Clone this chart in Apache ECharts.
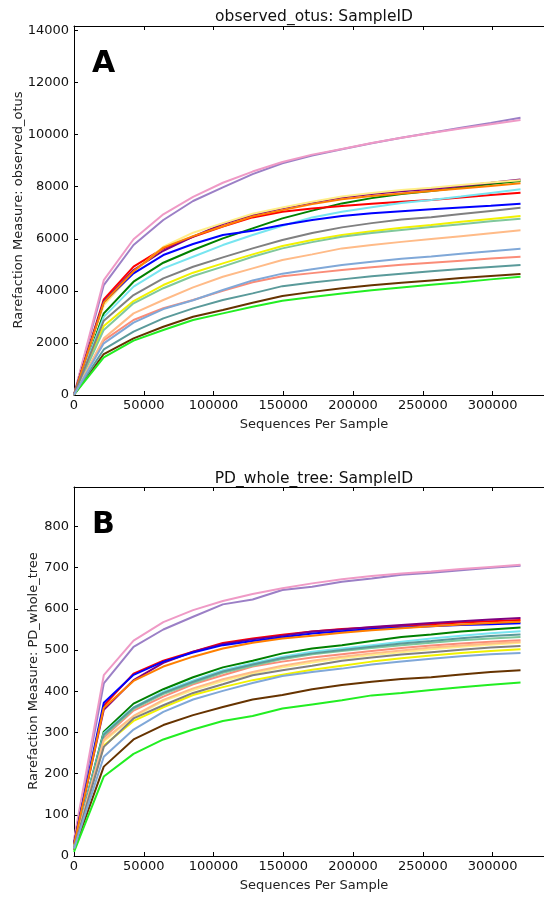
<!DOCTYPE html>
<html><head><meta charset="utf-8">
<script src="https://cdn.jsdelivr.net/npm/echarts@6/dist/echarts.min.js"></script>
<style>html,body{margin:0;padding:0;background:#fff}#c{width:544px;height:897px}</style>
</head><body><div id="c"></div>
<script>
// Sequences per sample (rarefaction depths)
const depths = [10, 21343, 42676, 64008, 85341, 106674, 128007, 149340, 170672, 192005, 213338, 234671, 256004, 277336, 298669, 320002];

const seriesNames = ['purple', 'pink', 'darkpurple', 'paleyellow', 'orange', 'green', 'red', 'cyan', 'blue', 'gray', 'yellow', 'aquamarine', 'teal', 'peach', 'steel', 'salmon', 'brown', 'lime'];
const seriesColors = ['#9b7fc6', '#ef9ac6', '#800080', '#ffee88', '#ff7f00', '#008000', '#ff0000', '#77e5f0', '#0000ff', '#808080', '#f2f200', '#80c89c', '#5a9a9a', '#ffbb88', '#80a8d8', '#fa8c78', '#663300', '#22ee22'];

// Panel A: observed_otus
const otusPurple     = [10, 4220, 5760, 6720, 7450, 7970, 8480, 8900, 9200, 9440, 9670, 9880, 10070, 10260, 10450, 10650];
const otusPink       = [10, 4410, 5980, 6940, 7610, 8150, 8580, 8950, 9230, 9450, 9680, 9880, 10060, 10230, 10400, 10560];
const otusDarkPurple = [10, 3580, 4800, 5540, 6080, 6565, 6910, 7166, 7390, 7588, 7720, 7820, 7910, 8030, 8150, 8280];
const otusPaleYellow = [10, 3450, 4720, 5694, 6232, 6600, 6960, 7200, 7420, 7620, 7760, 7870, 7960, 8060, 8160, 8250];
const otusOrange     = [10, 3550, 4750, 5660, 6100, 6480, 6860, 7100, 7330, 7520, 7640, 7740, 7830, 7930, 8030, 8127];
const otusGreen      = [10, 3135, 4351, 5080, 5567, 6014, 6398, 6782, 7080, 7358, 7560, 7720, 7830, 7970, 8100, 8215];
const otusRed        = [10, 3673, 4927, 5630, 6078, 6470, 6820, 7038, 7160, 7256, 7340, 7420, 7490, 7580, 7680, 7767];
const otusCyan       = [10, 3000, 4160, 4860, 5310, 5758, 6142, 6500, 6820, 7038, 7210, 7370, 7486, 7620, 7760, 7897];
const otusBlue       = [10, 3570, 4671, 5375, 5797, 6142, 6308, 6526, 6720, 6872, 6980, 7060, 7130, 7200, 7270, 7344];
const otusGray       = [10, 2853, 3839, 4479, 4927, 5285, 5630, 5950, 6220, 6437, 6600, 6740, 6830, 6950, 7070, 7191];
const otusYellow     = [10, 2649, 3609, 4223, 4697, 5055, 5400, 5720, 5950, 6142, 6290, 6420, 6530, 6650, 6760, 6872];
const otusAquamarine = [10, 2500, 3520, 4100, 4570, 4930, 5310, 5630, 5870, 6080, 6220, 6340, 6450, 6560, 6670, 6768];
const otusTeal       = [10, 1750, 2431, 2943, 3327, 3647, 3903, 4180, 4320, 4440, 4560, 4660, 4750, 4840, 4920, 4991];
const otusPeach      = [10, 2175, 3135, 3647, 4133, 4543, 4863, 5183, 5400, 5630, 5760, 5880, 5990, 6100, 6210, 6323];
const otusSteel      = [10, 1983, 2777, 3300, 3640, 4031, 4400, 4660, 4830, 4990, 5120, 5230, 5320, 5420, 5520, 5617];
const otusSalmon     = [10, 2100, 2879, 3330, 3650, 4000, 4330, 4560, 4680, 4800, 4910, 5000, 5080, 5160, 5240, 5309];
const otusBrown      = [10, 1574, 2175, 2623, 3007, 3263, 3545, 3800, 3960, 4095, 4210, 4310, 4400, 4490, 4570, 4645];
const otusLime       = [10, 1446, 2086, 2495, 2880, 3135, 3391, 3620, 3760, 3900, 4020, 4130, 4230, 4330, 4440, 4542];

// Panel B: PD_whole_tree
const pdPurple     = [35, 419, 508, 550, 581, 611, 623, 646, 654, 666, 674, 683, 688, 694, 700, 705];
const pdPink       = [40, 439, 523, 568, 597, 619, 636, 650, 662, 672, 680, 686, 691, 697, 702, 707];
const pdDarkPurple = [30, 355, 427, 469, 496, 515, 526, 535, 545, 550, 556, 561, 566, 570, 574, 578];
const pdPaleYellow = [20, 278, 338, 376, 403, 425, 443, 458, 470, 480, 488, 495, 502, 508, 513, 518];
const pdOrange     = [28, 360, 425, 460, 484, 504, 518, 528, 535, 542, 548, 553, 558, 562, 566, 569];
const pdGreen      = [25, 302, 370, 405, 434, 458, 474, 492, 504, 512, 522, 532, 538, 545, 550, 555];
const pdRed        = [30, 365, 443, 474, 496, 517, 528, 537, 545, 551, 555, 559, 563, 567, 570, 573];
const pdCyan       = [25, 298, 361, 399, 426, 451, 468, 484, 496, 504, 512, 520, 528, 535, 541, 546];
const pdBlue       = [30, 372, 440, 472, 494, 512, 522, 531, 540, 546, 551, 555, 558, 561, 563, 565];
const pdGray       = [20, 265, 334, 366, 396, 417, 439, 451, 462, 474, 482, 489, 495, 501, 506, 510];
const pdYellow     = [20, 268, 328, 361, 391, 410, 427, 440, 452, 462, 472, 480, 487, 493, 498, 502];
const pdAquamarine = [22, 292, 357, 393, 420, 445, 462, 478, 490, 498, 505, 512, 518, 524, 528, 532];
const pdTeal       = [22, 295, 360, 396, 423, 448, 465, 481, 492, 500, 508, 516, 522, 529, 534, 538];
const pdPeach      = [20, 282, 340, 379, 407, 429, 447, 462, 474, 484, 492, 499, 506, 511, 516, 520];
const pdSteel      = [18, 241, 307, 350, 380, 401, 420, 437, 447, 455, 465, 472, 479, 485, 490, 493];
const pdSalmon     = [22, 288, 353, 387, 417, 439, 460, 472, 482, 490, 498, 505, 511, 516, 520, 524];
const pdBrown      = [15, 217, 283, 318, 342, 362, 380, 391, 405, 415, 423, 430, 434, 441, 447, 451];
const pdLime       = [10, 193, 248, 283, 307, 328, 340, 358, 368, 378, 390, 396, 403, 410, 416, 421];

const otusData = [otusPurple, otusPink, otusDarkPurple, otusPaleYellow, otusOrange, otusGreen, otusRed, otusCyan, otusBlue, otusGray, otusYellow, otusAquamarine, otusTeal, otusPeach, otusSteel, otusSalmon, otusBrown, otusLime];
const pdData = [pdPurple, pdPink, pdDarkPurple, pdPaleYellow, pdOrange, pdGreen, pdRed, pdCyan, pdBlue, pdGray, pdYellow, pdAquamarine, pdTeal, pdPeach, pdSteel, pdSalmon, pdBrown, pdLime];

const FONT = 'DejaVu Sans';
const xTicks = [0, 50000, 100000, 150000, 200000, 250000, 300000];

function xAx(gi, pos, showLabels, name) {
  return {
    type: 'value', gridIndex: gi, position: pos, min: 0, max: 344000, interval: 50000,
    name: name || '', nameLocation: 'middle', nameGap: 23,
    nameTextStyle: {fontFamily: FONT, fontSize: 13, color: '#222'},
    axisLine: {show: true, onZero: false, lineStyle: {color: '#000', width: 1}},
    axisTick: {show: true, inside: true, length: 4, lineStyle: {color: '#000'}},
    axisLabel: {show: showLabels, showMaxLabel: false, fontFamily: FONT, fontSize: 13, color: '#111', margin: 4,
      formatter: v => (xTicks.indexOf(v) >= 0 ? String(v) : '')},
    splitLine: {show: false}
  };
}
function yAx(gi, max, interval) {
  return {
    type: 'value', gridIndex: gi, min: 0, max: max, interval: interval,
    axisLine: {show: true, onZero: false, lineStyle: {color: '#000', width: 1}},
    axisTick: {show: true, inside: true, length: 4, lineStyle: {color: '#000'}},
    axisLabel: {showMaxLabel: false, fontFamily: FONT, fontSize: 13, color: '#111', margin: 5,
      formatter: v => (v % interval === 0 ? String(v) : '')},
    splitLine: {show: false}
  };
}

const series = [];
otusData.forEach((arr, i) => {
  series.push({type: 'line', xAxisIndex: 0, yAxisIndex: 0, name: 'A_' + seriesNames[i],
    data: depths.map((d, k) => [d, arr[k]]), showSymbol: false, symbol: 'none',
    lineStyle: {color: seriesColors[i], width: 2}, itemStyle: {color: seriesColors[i]}, z: 2 + (i % 5)});
});
pdData.forEach((arr, i) => {
  series.push({type: 'line', xAxisIndex: 2, yAxisIndex: 1, name: 'B_' + seriesNames[i],
    data: depths.map((d, k) => [d, arr[k]]), showSymbol: false, symbol: 'none',
    lineStyle: {color: seriesColors[i], width: 2}, itemStyle: {color: seriesColors[i]}, z: 2 + (i % 5)});
});

const chart = echarts.init(document.getElementById('c'), null, {renderer: 'canvas'});
chart.setOption({
  animation: false,
  backgroundColor: '#fff',
  graphic: [
    {type: 'text', x: 314, y: 17, style: {text: 'observed_otus: SampleID', fontFamily: FONT, fontSize: 15.5, fill: '#111', align: 'center', verticalAlign: 'middle'}},
    {type: 'text', x: 314, y: 479, style: {text: 'PD_whole_tree: SampleID', fontFamily: FONT, fontSize: 15.5, fill: '#111', align: 'center', verticalAlign: 'middle'}},
    {type: 'text', x: 19, y: 210, rotation: Math.PI / 2, style: {text: 'Rarefaction Measure: observed_otus', fontFamily: FONT, fontSize: 13, fill: '#222', align: 'center', verticalAlign: 'middle'}},
    {type: 'text', x: 34, y: 671, rotation: Math.PI / 2, style: {text: 'Rarefaction Measure: PD_whole_tree', fontFamily: FONT, fontSize: 13, fill: '#222', align: 'center', verticalAlign: 'middle'}},
    {type: 'text', left: 92, top: 49, style: {text: 'A', font: 'bold 30px "DejaVu Sans"', fill: '#000'}},
    {type: 'text', left: 92, top: 510, style: {text: 'B', font: 'bold 30px "DejaVu Sans"', fill: '#000'}}
  ],
  grid: [
    {left: 74, top: 26, right: -10, height: 369, containLabel: false, outerBoundsMode: 'none'},
    {left: 74, top: 487, right: -10, height: 369, containLabel: false, outerBoundsMode: 'none'}
  ],
  xAxis: [
    xAx(0, 'bottom', true, 'Sequences Per Sample'),
    xAx(0, 'top', false),
    xAx(1, 'bottom', true, 'Sequences Per Sample'),
    xAx(1, 'top', false)
  ],
  yAxis: [
    yAx(0, 14170, 2000),
    yAx(1, 896, 100)
  ],
  series: series
});
</script></body></html>
